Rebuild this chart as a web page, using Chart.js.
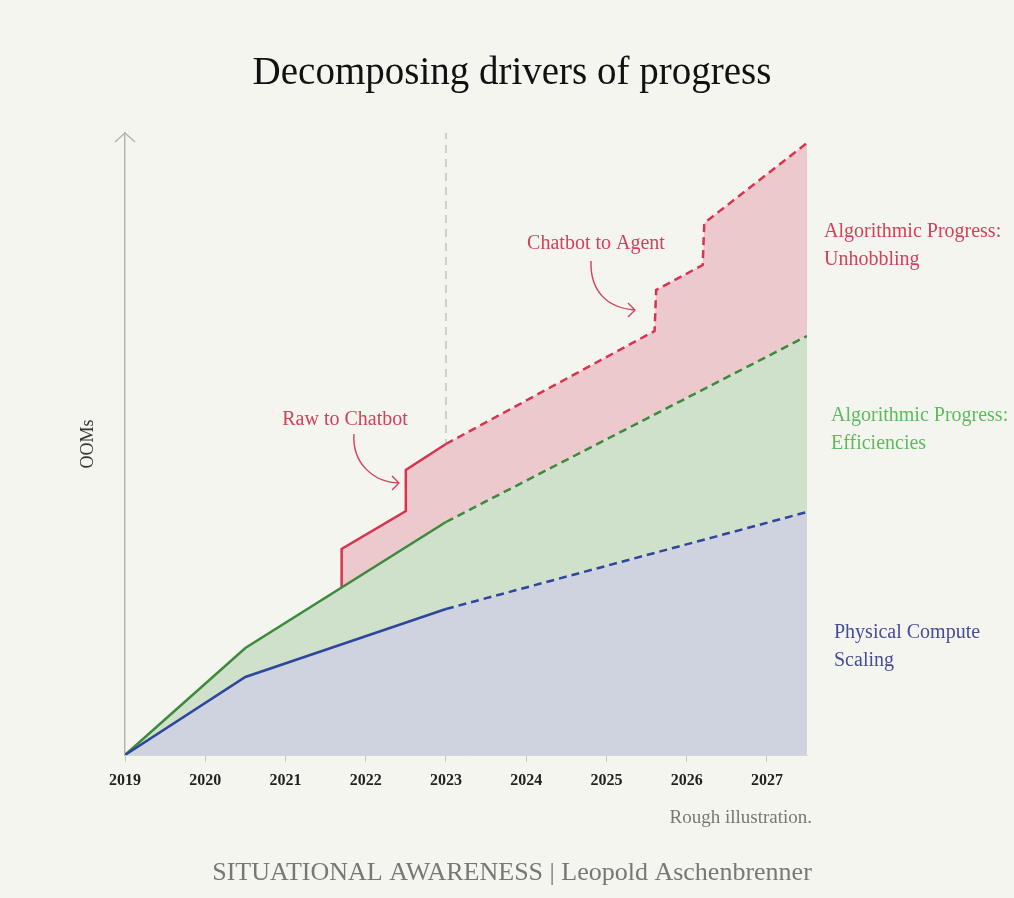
<!DOCTYPE html>
<html>
<head>
<meta charset="utf-8">
<script src="https://cdn.jsdelivr.net/npm/chart.js@4"></script>
<style>
  html, body { margin: 0; padding: 0; background: #f5f5f0; }
  #wrap { width: 1014px; height: 898px; }
</style>
</head>
<body>
<div id="wrap"><canvas id="chart"></canvas></div>
<script>
// data (y in arbitrary OOM units)
const years = [2019, 2020, 2021, 2022, 2023, 2024, 2025, 2026, 2027];
const computeX = [2019, 2020.5, 2023, 2027.5];
const computeY = [0, 0.78, 1.46, 2.43];
const effX = [2019, 2020.5, 2023, 2027.5];
const effY = [0, 1.07, 2.33, 4.19];
const unhobX = [2021.7, 2021.7, 2022.5, 2022.5, 2023, 2025.6, 2025.62, 2026.2, 2026.22, 2027.5];
const unhobY = [1.67, 2.06, 2.44, 2.85, 3.11, 4.24, 4.65, 4.90, 5.32, 6.12];
const todayX = 2023;
const yMax = 6.22;

const serif = '"Liberation Serif", "DejaVu Serif", serif';

function pts(xs, ys) {
    return xs.map((x, i) => ({ x: x, y: ys[i] }));
}

// dashed after 2023 (projection)
const dashAfter = ctx => ctx.p0.parsed.x >= todayX ? [8, 5] : undefined;

// extra drawing: title, axis arrow, labels, annotations
const decorations = {
    id: 'decorations',
    afterDraw(chart) {
        const { ctx, chartArea } = chart;
        ctx.save();

        // title, centred on the whole page
        ctx.fillStyle = '#111';
        ctx.font = '39px ' + serif;
        ctx.textAlign = 'center';
        ctx.textBaseline = 'middle';
        ctx.fillText('Decomposing drivers of progress', 512, 74);

        // arrow head on y axis
        ctx.strokeStyle = '#b5b5b0';
        ctx.lineWidth = 1.5;
        ctx.beginPath();
        ctx.moveTo(chartArea.left - 10, chartArea.top + 9);
        ctx.lineTo(chartArea.left, chartArea.top);
        ctx.lineTo(chartArea.left + 10, chartArea.top + 9);
        ctx.stroke();

        // series labels on the right
        ctx.font = '20px ' + serif;
        ctx.textAlign = 'left';
        ctx.fillStyle = '#d2405a';
        ctx.fillText('Algorithmic Progress:', 824, 232);
        ctx.fillText('Unhobbling', 824, 260);
        ctx.fillStyle = '#5cba5c';
        ctx.fillText('Algorithmic Progress:', 831, 416);
        ctx.fillText('Efficiencies', 831, 444);
        ctx.fillStyle = '#464c96';
        ctx.fillText('Physical Compute', 834, 633);
        ctx.fillText('Scaling', 834, 661);

        // annotations
        ctx.fillStyle = '#d2405a';
        ctx.textAlign = 'center';
        ctx.fillText('Raw to Chatbot', 345, 420);
        ctx.fillText('Chatbot to Agent', 596, 244);

        ctx.strokeStyle = '#d2405a';
        ctx.lineWidth = 1.4;
        ctx.beginPath();
        ctx.moveTo(354, 434);
        ctx.bezierCurveTo(352, 462, 372, 482, 399, 483);
        ctx.stroke();
        ctx.beginPath();
        ctx.moveTo(392, 476);
        ctx.lineTo(399, 483);
        ctx.lineTo(392, 490);
        ctx.stroke();

        ctx.beginPath();
        ctx.moveTo(591, 261);
        ctx.bezierCurveTo(590, 290, 606, 308, 635, 310);
        ctx.stroke();
        ctx.beginPath();
        ctx.moveTo(628, 303);
        ctx.lineTo(635, 310);
        ctx.lineTo(628, 317);
        ctx.stroke();

        // notes
        ctx.fillStyle = '#777';
        ctx.font = '19px ' + serif;
        ctx.textAlign = 'right';
        ctx.fillText('Rough illustration.', 812, 818);
        ctx.font = '26px ' + serif;
        ctx.textAlign = 'center';
        ctx.fillText('SITUATIONAL AWARENESS | Leopold Aschenbrenner', 512, 873);
        ctx.restore();
    }
};

new Chart(document.getElementById('chart'), {
    type: 'line',
    data: {
        datasets: [
            {
                label: 'Physical Compute Scaling',
                data: pts(computeX, computeY),
                borderColor: '#2e479c',
                backgroundColor: '#cfd3e0',
                borderWidth: 2.5,
                pointRadius: 0,
                fill: 'origin',
                segment: { borderDash: dashAfter }
            },
            {
                label: 'Algorithmic Progress: Efficiencies',
                data: pts(effX, effY),
                borderColor: '#3c8a3c',
                backgroundColor: '#cfe0cb',
                borderWidth: 2.5,
                pointRadius: 0,
                fill: '-1',
                segment: { borderDash: dashAfter }
            },
            {
                label: 'Algorithmic Progress: Unhobbling',
                data: pts(unhobX, unhobY),
                borderColor: '#d6344f',
                backgroundColor: '#ecc9cd',
                borderWidth: 2.5,
                pointRadius: 0,
                fill: '-1',
                segment: { borderDash: dashAfter }
            },
            {
                label: 'today',
                data: [{ x: todayX, y: 0 }, { x: todayX, y: yMax }],
                borderColor: 'rgba(190,190,185,0.7)',
                borderWidth: 2,
                borderDash: [8, 6],
                pointRadius: 0,
                fill: false
            }
        ]
    },
    options: {
        responsive: true,
        maintainAspectRatio: false,
        animation: false,
        layout: { padding: { top: 133, right: 207, bottom: 0, left: 0 } },
        plugins: {
            legend: { display: false },
            tooltip: { enabled: false },
            title: { display: false }
        },
        scales: {
            x: {
                type: 'linear',
                min: 2019,
                max: 2027.5,
                afterBuildTicks: s => { s.ticks = years.map(v => ({ value: v })); },
                afterFit: s => { s.height = 143; },
                grid: { drawOnChartArea: false, color: '#c8c8c3', tickLength: 7 },
                border: { display: true, color: '#d8d8d3' },
                ticks: {
                    color: '#222',
                    font: { family: serif, size: 16, weight: 'bold' },
                    padding: 9,
                    maxRotation: 0,
                    callback: v => String(v)
                }
            },
            y: {
                min: 0,
                max: yMax,
                afterFit: s => { s.width = 125; },
                grid: { display: false },
                border: { display: true, color: '#b5b5b0', width: 1.5 },
                ticks: { display: false },
                title: {
                    display: true,
                    text: 'OOMs',
                    color: '#333',
                    font: { family: serif, size: 18 },
                    padding: { top: 77, bottom: 0 }
                }
            }
        }
    },
    plugins: [decorations]
});
</script>
</body>
</html>
